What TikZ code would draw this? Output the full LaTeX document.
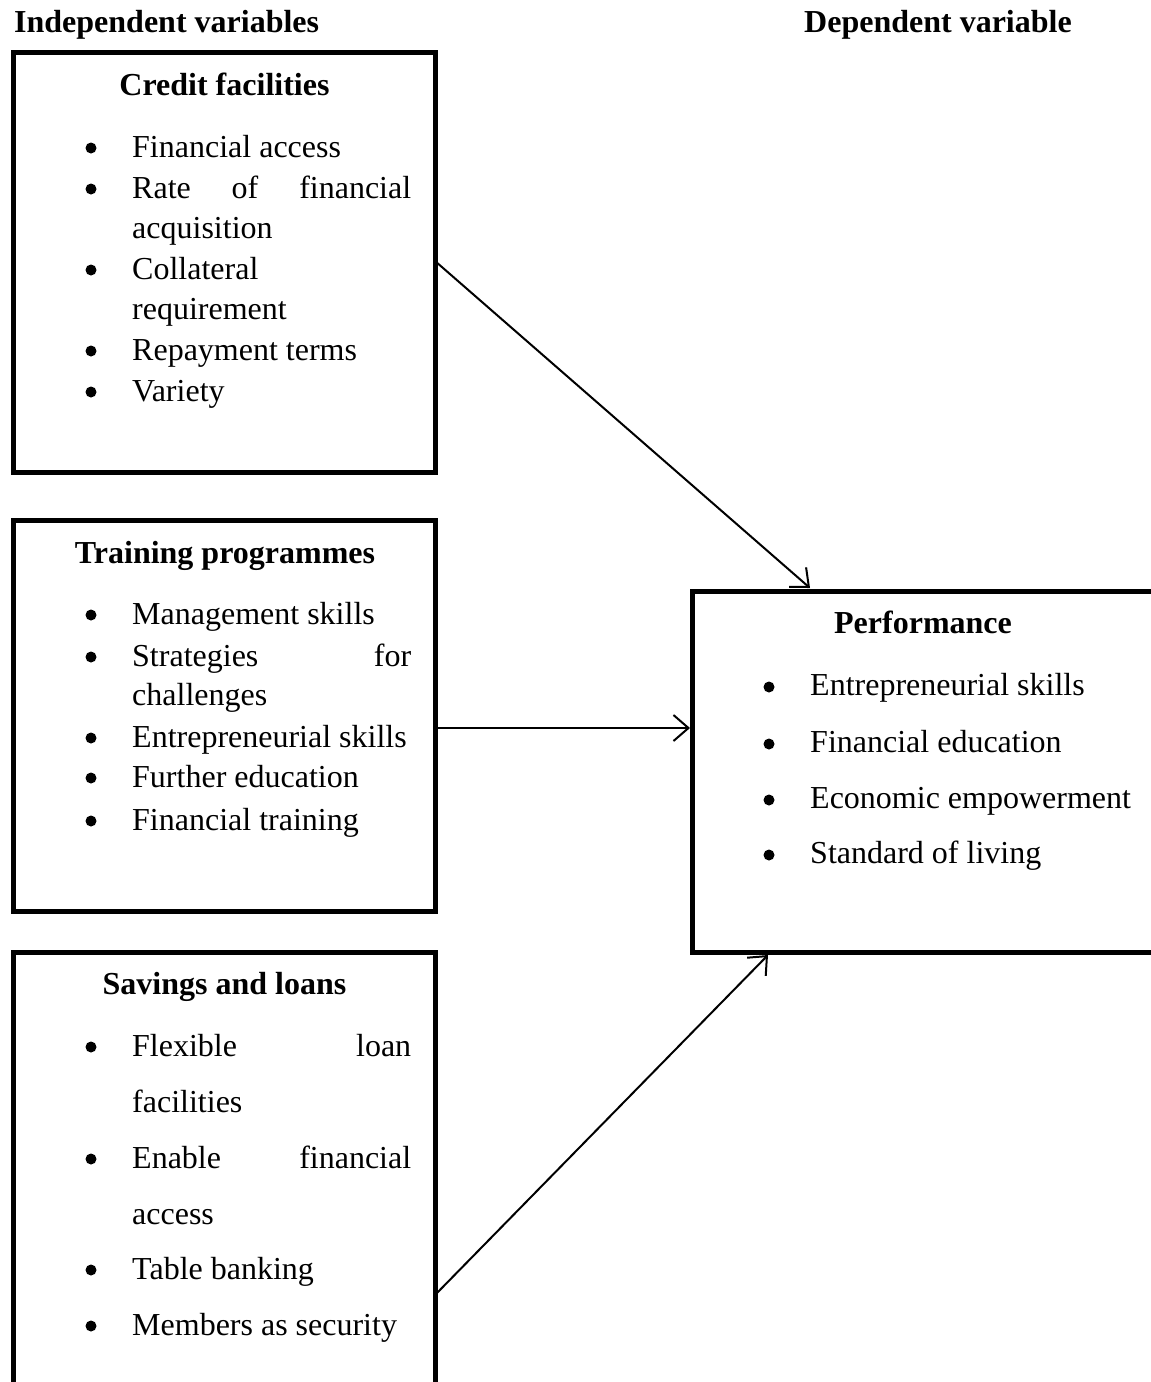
\documentclass[tikz,border=0pt]{standalone}
\usepackage{fontspec}
\setmainfont{Liberation Serif}
\usetikzlibrary{arrows.meta}
\begin{document}
\begin{tikzpicture}[x=1pt,y=-1pt,
  box/.style={draw, line width=5pt, inner sep=0pt, outer sep=0pt, anchor=north west},
  ttl/.style={font=\fontsize{32}{40}\selectfont\bfseries, anchor=base, inner sep=0pt},
  itm/.style={font=\fontsize{32}{40}\selectfont, anchor=base west, inner sep=0pt},
  bul/.style={circle, fill=black, inner sep=0pt, minimum size=11pt},
  arr/.style={line width=2pt, -{Straight Barb[length=15pt,width=26pt,line width=2pt]}}]
\useasboundingbox (0,0) rectangle (1151,1382);
\fill[white] (0,0) rectangle (1151,1382);
% headings
\node[ttl, anchor=base west] (hind) at (14,32) {Independent variables};
\node[ttl, anchor=base west] (hdep) at (804,32) {Dependent variable};
% boxes
\node[box, minimum width=422pt, minimum height=420pt] (credit) at (13,52) {};
\node[box, minimum width=422pt, minimum height=391pt] (train) at (13,520) {};
\node[box, minimum width=422pt, minimum height=460pt] (save) at (13,952) {};
\node[box, minimum width=470pt, minimum height=361pt] (perf) at (692,591) {};
% credit facilities
\node[ttl] (ct) at (224.5,95) {Credit facilities};
\node[bul] (cb1) at (91,148) {};
\node[itm] (c1) at (132,157) {Financial access};
\node[bul] (cb2) at (91,189) {};
\node[itm] (c2) at (132,198) {\makebox[279pt][s]{Rate of financial}};
\node[itm] (c3) at (132,238) {acquisition};
\node[bul] (cb4) at (91,270) {};
\node[itm] (c4) at (132,279) {Collateral};
\node[itm] (c5) at (132,319) {requirement};
\node[bul] (cb6) at (91,351) {};
\node[itm] (c6) at (132,360) {Repayment terms};
\node[bul] (cb7) at (91,392) {};
\node[itm] (c7) at (132,401) {Variety};
% training programmes
\node[ttl] (tt) at (225,563) {Training programmes};
\node[bul] (tb1) at (91,615) {};
\node[itm] (t1) at (132,624) {Management skills};
\node[bul] (tb2) at (91,657) {};
\node[itm] (t2) at (132,666) {\makebox[279pt][s]{Strategies for}};
\node[itm] (t3) at (132,705) {challenges};
\node[bul] (tb4) at (91,738) {};
\node[itm] (t4) at (132,747) {Entrepreneurial skills};
\node[bul] (tb5) at (91,778) {};
\node[itm] (t5) at (132,787) {Further education};
\node[bul] (tb6) at (91,821) {};
\node[itm] (t6) at (132,830) {Financial training};
% savings and loans
\node[ttl] (st) at (224.5,994) {Savings and loans};
\node[bul] (sb1) at (91,1047) {};
\node[itm] (s1) at (132,1056) {\makebox[279pt][s]{Flexible loan}};
\node[itm] (s2) at (132,1112) {facilities};
\node[bul] (sb3) at (91,1159) {};
\node[itm] (s3) at (132,1168) {\makebox[279pt][s]{Enable financial}};
\node[itm] (s4) at (132,1224) {access};
\node[bul] (sb5) at (91,1270) {};
\node[itm] (s5) at (132,1279) {Table banking};
\node[bul] (sb6) at (91,1326) {};
\node[itm] (s6) at (132,1335) {Members as security};
% performance
\node[ttl] (pt) at (923,633) {Performance};
\node[bul] (pb1) at (769,687) {};
\node[itm] (p1) at (810,695) {Entrepreneurial skills};
\node[bul] (pb2) at (769,744) {};
\node[itm] (p2) at (810,752) {Financial education};
\node[bul] (pb3) at (769,800) {};
\node[itm] (p3) at (810,808) {Economic empowerment};
\node[bul] (pb4) at (769,855) {};
\node[itm] (p4) at (810,863) {Standard of living};
% connectors
\coordinate (a1) at (credit.north east |- 0,261);
\coordinate (a2) at (train.north east |- 0,728);
\coordinate (a3) at (save.north east |- 0,1295);
\draw[arr] (a1) -- ([xshift=118pt,yshift=3pt]perf.north west);
\draw[arr] (a2) -- ([xshift=-2pt]perf.west |- a2);
\draw[arr] (a3) -- ([xshift=76pt,yshift=-3pt]perf.south west);
\end{tikzpicture}
\end{document}
